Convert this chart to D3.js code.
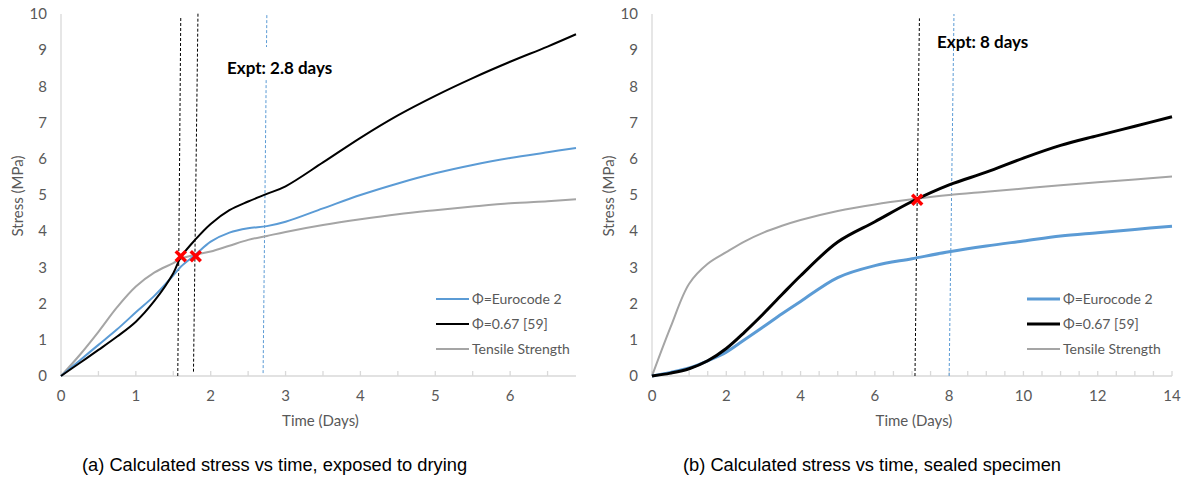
<!DOCTYPE html>
<html>
<head>
<meta charset="utf-8">
<script src="https://cdn.jsdelivr.net/npm/d3@7/dist/d3.min.js"></script>
<style>
  html, body { margin: 0; padding: 0; background: #fff; }
  svg { display: block; }
  .tick-label { font-family: Lato, "Open Sans", sans-serif; font-size: 15px; fill: #595959; }
  .axis-title { font-family: Lato, "Open Sans", sans-serif; font-size: 15px; fill: #595959; }
  .legend-text { font-family: Lato, "Open Sans", sans-serif; font-size: 14px; fill: #595959; }
  .expt { font-family: Lato, "Open Sans", sans-serif; font-size: 17px; font-weight: bold; fill: #000; }
  .caption { font-family: "Liberation Sans", Arial, sans-serif; font-size: 18.3px; fill: #000; }
</style>
</head>
<body>
<svg id="chart" width="1185" height="486"></svg>
<script>
// ---- Panel (a): exposed to drying ----
const dryingDays      = [0, 0.25, 0.5, 0.75, 1, 1.25, 1.5, 1.6, 1.8, 2, 2.25, 2.5, 2.75, 3, 3.5, 4, 4.5, 5, 5.5, 6, 6.5, 6.88];
const dryingEurocode  = [0, 0.43, 0.86, 1.29, 1.76, 2.22, 2.78, 3.02, 3.36, 3.71, 3.96, 4.08, 4.14, 4.26, 4.63, 5.0, 5.32, 5.6, 5.83, 6.02, 6.18, 6.30];
const dryingPhi067    = [0, 0.36, 0.72, 1.09, 1.5, 2.08, 2.84, 3.28, 3.78, 4.2, 4.58, 4.82, 5.03, 5.24, 5.9, 6.58, 7.2, 7.74, 8.23, 8.68, 9.1, 9.44];
const dryingTensile   = [0, 0.58, 1.22, 1.9, 2.47, 2.86, 3.12, 3.24, 3.35, 3.44, 3.6, 3.76, 3.87, 3.98, 4.17, 4.33, 4.47, 4.58, 4.68, 4.77, 4.83, 4.88];
const dryingCracks    = [[1.6, 3.31], [1.8, 3.31]];
// dashed guides: [day at bottom, day at top, bottom MPa, top MPa, colour]
const dryingGuides    = [[1.56, 1.60, 0, 9.92, "#000"], [1.77, 1.83, 0.12, 10.05, "#000"], [2.70, 2.75, 0.08, 10.0, "#5B9BD5"]];
const dryingXTicks    = [0, 1, 2, 3, 4, 5, 6];

// ---- Panel (b): sealed specimen ----
const sealedDays      = [0, 0.5, 1, 1.5, 2, 2.5, 3, 3.5, 4, 5, 6, 7, 8, 9, 10, 11, 12, 13, 14];
const sealedEurocode  = [0, 0.1, 0.22, 0.42, 0.66, 1.01, 1.36, 1.72, 2.06, 2.72, 3.05, 3.24, 3.43, 3.59, 3.73, 3.87, 3.96, 4.05, 4.14];
const sealedPhi067    = [0, 0.08, 0.2, 0.42, 0.76, 1.22, 1.72, 2.25, 2.77, 3.7, 4.26, 4.82, 5.28, 5.63, 6.02, 6.37, 6.64, 6.9, 7.16];
const sealedTensile   = [0, 1.35, 2.55, 3.1, 3.42, 3.72, 3.96, 4.15, 4.31, 4.56, 4.74, 4.88, 5.0, 5.09, 5.18, 5.27, 5.35, 5.43, 5.51];
const sealedCracks    = [[7.14, 4.87]];
const sealedGuides    = [[7.08, 7.2, 0, 9.88, "#000"], [8.0, 8.13, 0, 10.0, "#5B9BD5"]];
const sealedXTicks    = [0, 2, 4, 6, 8, 10, 12, 14];

const yTicks = [0, 1, 2, 3, 4, 5, 6, 7, 8, 9, 10];
const seriesNames = ["Φ=Eurocode 2", "Φ=0.67 [59]", "Tensile Strength"];
const seriesColors = ["#5B9BD5", "#000000", "#A5A5A5"];

const svg = d3.select("#chart");

function panel(opt) {
  const x = d3.scaleLinear().domain([0, opt.xMax]).range([opt.x0, opt.x1]);
  const y = d3.scaleLinear().domain([0, 10]).range([376, 14]);
  const g = svg.append("g");

  // axis lines
  g.append("line").attr("x1", x(0)).attr("x2", x(0)).attr("y1", y(10)).attr("y2", y(0))
    .attr("stroke", "#D9D9D9").attr("stroke-width", 1.3);
  g.append("line").attr("x1", x(0)).attr("x2", x(opt.xMax)).attr("y1", y(0)).attr("y2", y(0))
    .attr("stroke", "#D9D9D9").attr("stroke-width", 1.3);

  // inside tick marks on the time axis
  const minor = d3.range(0, opt.xMax + 1e-9, opt.minorStep);
  g.selectAll(".mt").data(minor).join("line")
    .attr("x1", d => x(d)).attr("x2", d => x(d))
    .attr("y1", y(0)).attr("y2", y(0) - 5)
    .attr("stroke", "#D9D9D9").attr("stroke-width", 1.3);

  // tick labels
  g.selectAll(".xl").data(opt.xTicks).join("text")
    .attr("class", "tick-label").attr("x", d => x(d)).attr("y", 401)
    .attr("text-anchor", "middle").text(d => d);
  g.selectAll(".yl").data(yTicks).join("text")
    .attr("class", "tick-label").attr("x", x(0) - 14).attr("y", d => y(d))
    .attr("dy", "0.35em").attr("text-anchor", "end").text(d => d);

  // axis titles
  g.append("text").attr("class", "axis-title")
    .attr("x", (opt.x0 + opt.x1) / 2 + 2).attr("y", 426).attr("text-anchor", "middle").text("Time (Days)");
  g.append("text").attr("class", "axis-title")
    .attr("transform", `translate(${opt.x0 - 43},196) rotate(-90)`)
    .attr("text-anchor", "middle").attr("dy", "0.35em").text("Stress (MPa)");

  // dashed guide lines
  g.selectAll(".guide").data(opt.guides).join("line")
    .attr("x1", d => x(d[0])).attr("y1", d => y(d[2]))
    .attr("x2", d => x(d[1])).attr("y2", d => y(d[3]))
    .attr("stroke", d => d[4]).attr("stroke-width", 1)
    .attr("stroke-dasharray", "3,2");

  // white box under the label (covers the guide behind it)
  if (opt.labelBox) {
    g.append("rect").attr("x", opt.labelBox[0]).attr("y", opt.labelBox[1])
      .attr("width", opt.labelBox[2]).attr("height", opt.labelBox[3]).attr("fill", "#fff");
  }

  g.append("text").attr("class", "expt").attr("x", opt.label[0]).attr("y", opt.label[1])
    .attr("dy", "0.35em").text(opt.label[2]);

  // series
  const line = d3.line().x(d => x(d[0])).y(d => y(d[1])).curve(d3.curveCatmullRom.alpha(0.5));
  const order = [2, 0, 1];
  order.forEach(i => {
    const pts = opt.days.map((d, k) => [d, opt.series[i][k]]);
    g.append("path").datum(pts).attr("d", line)
      .attr("fill", "none").attr("stroke", seriesColors[i])
      .attr("stroke-width", opt.widths[i]).attr("stroke-linejoin", "round");
  });

  // crack markers
  const s = 5;
  opt.cracks.forEach(c => {
    const cx = x(c[0]), cy = y(c[1]);
    g.append("path")
      .attr("d", `M${cx - s},${cy - s}L${cx + s},${cy + s}M${cx + s},${cy - s}L${cx - s},${cy + s}`)
      .attr("stroke", "#FF0000").attr("stroke-width", 3.5).attr("fill", "none");
  });

  // legend
  seriesNames.forEach((name, i) => {
    const ly = 299 + i * 25;
    g.append("line").attr("x1", opt.legendX).attr("x2", opt.legendX + 33)
      .attr("y1", ly).attr("y2", ly).attr("stroke", seriesColors[i]).attr("stroke-width", opt.widths[i]);
    g.append("text").attr("class", "legend-text").attr("x", opt.legendX + 36).attr("y", ly)
      .attr("dy", "0.35em").text(name);
  });

  svg.append("text").attr("class", "caption").attr("x", opt.caption[0]).attr("y", 471).text(opt.caption[1]);
}

panel({
  xMax: 6.88, x0: 61, x1: 576, minorStep: 0.5, xTicks: dryingXTicks,
  days: dryingDays, series: [dryingEurocode, dryingPhi067, dryingTensile],
  widths: [2, 2, 2], cracks: dryingCracks, guides: dryingGuides,
  labelBox: [222, 47, 116, 33], label: [227, 68, "Expt: 2.8 days"],
  legendX: 436, caption: [82, "(a) Calculated stress vs time, exposed to drying"]
});

panel({
  xMax: 14, x0: 652, x1: 1172, minorStep: 0.5, xTicks: sealedXTicks,
  days: sealedDays, series: [sealedEurocode, sealedPhi067, sealedTensile],
  widths: [3, 3, 2], cracks: sealedCracks, guides: sealedGuides,
  labelBox: null, label: [937, 42, "Expt: 8 days"],
  legendX: 1027, caption: [683, "(b) Calculated stress vs time, sealed specimen"]
});
</script>
</body>
</html>
